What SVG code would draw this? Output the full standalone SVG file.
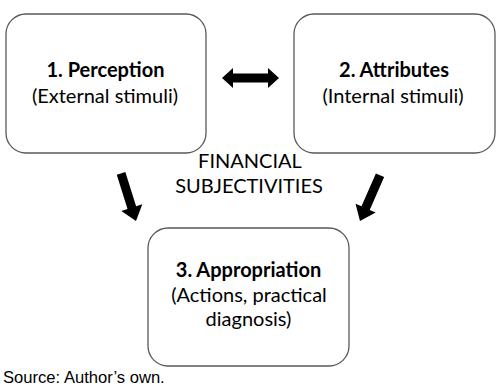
<svg xmlns="http://www.w3.org/2000/svg" width="500" height="388" viewBox="0 0 500 388">
<style>
.box{fill:#fff;stroke:#595959;stroke-width:1.3}
.t{font-family:Lato,"Open Sans","Liberation Sans",sans-serif;font-size:20px;fill:#000;text-anchor:middle}
.b{font-weight:bold}
.src{font-family:"Liberation Sans",Arial,sans-serif;font-size:16.6px;fill:#000}
.arr{fill:#000}
</style>
<defs>
<path id="darr" d="M-4.5,-50 L4.5,-50 L4.5,-14 L11,-14 L0,0 L-11,-14 L-4.5,-14 Z"/>
</defs>
<rect width="500" height="388" fill="#fff"/>
<g id="n1">
<rect class="box" x="6" y="14" width="200" height="139" rx="20"/>
<text class="t b" x="105.5" y="77">1. Perception</text>
<text class="t" x="105" y="103">(External stimuli)</text>
</g>
<g id="n2">
<rect class="box" x="294" y="14" width="201" height="139" rx="20"/>
<text class="t b" x="394" y="77">2. Attributes</text>
<text class="t" x="393" y="103">(Internal stimuli)</text>
</g>
<g id="n3">
<rect class="box" x="148" y="228" width="201" height="138" rx="20"/>
<text class="t b" x="248.5" y="277">3. Appropriation</text>
<text class="t" x="249" y="302">(Actions, practical</text>
<text class="t" x="248.5" y="326">diagnosis)</text>
</g>
<g id="label">
<text class="t" x="250" y="168">FINANCIAL</text>
<text class="t" x="249" y="193">SUBJECTIVITIES</text>
</g>
<g id="connectors" class="arr">
<path d="M222,78 L233,68 L233,73.5 L268,73.5 L268,68 L279,78 L268,88 L268,82.5 L233,82.5 L233,88 Z"/>
<use href="#darr" transform="translate(136,221) rotate(-17.4)"/>
<use href="#darr" transform="translate(360,221) rotate(23.6)"/>
</g>
<text class="src" x="3" y="383">Source: Author’s own.</text>
</svg>
